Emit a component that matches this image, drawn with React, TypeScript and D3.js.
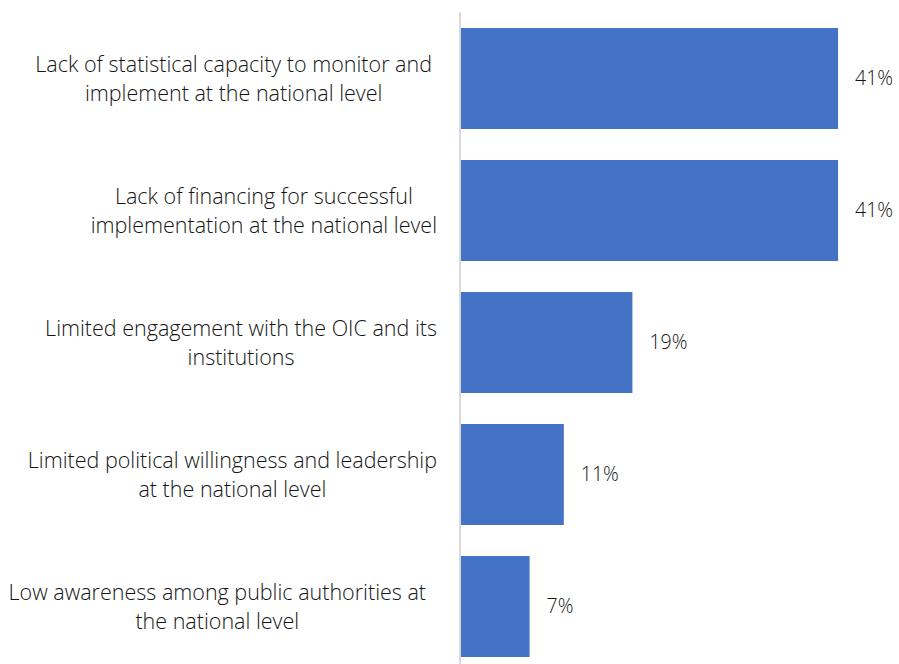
import React, { useEffect, useRef } from "react";
import * as d3 from "d3";

const categories: string[][] = [
  ["Lack of statistical capacity to monitor and", "implement at the national level"],
  ["Lack of financing for successful", "implementation at the national level"],
  ["Limited engagement with the OIC and its", "institutions"],
  ["Limited political willingness and leadership", "at the national level"],
  ["Low awareness among public authorities at", "the national level"],
];
const values: number[] = [0.4074, 0.4074, 0.1852, 0.1111, 0.0741];

const W = 899;
const H = 664;
const FONT = "'Open Sans', 'Noto Sans', sans-serif";
const LABEL_RIGHT = [432, 437, 437, 437, 426];

export default function App() {
  const ref = useRef<SVGSVGElement | null>(null);
  useEffect(() => {
    const svg = d3.select(ref.current);
    svg.selectAll("*").remove();
    const keys = categories.map((_, i) => String(i));
    const y = d3.scaleBand<string>().domain(keys).range([12.5, 672.5]).paddingInner(0.235).paddingOuter(0.1175);
    const x = d3.scaleLinear().domain([0, 0.45]).range([461, 877.5]);
    const fmt = d3.format(".0%");

    svg.append("line")
      .attr("x1", 460).attr("x2", 460)
      .attr("y1", y.range()[0]).attr("y2", y.range()[1])
      .attr("stroke", "#d9d9d9").attr("stroke-width", 2);

    svg.selectAll("rect.bar").data(values).enter().append("rect")
      .attr("class", "bar")
      .attr("x", x(0))
      .attr("y", (_, i) => y(keys[i])!)
      .attr("width", (d) => x(d) - x(0))
      .attr("height", y.bandwidth())
      .attr("fill", "#4472c4");

    svg.selectAll("text.val").data(values).enter().append("text")
      .attr("class", "val")
      .attr("x", (d) => x(d) + 17)
      .attr("y", (_, i) => y(keys[i])! + y.bandwidth() / 2)
      .attr("dy", "0.35em")
      .attr("font-family", FONT)
      .attr("font-weight", 300)
      .attr("font-size", 19.5)
      .attr("fill", "#141414")
      .text((d) => fmt(d));

    categories.forEach((lines, i) => {
      const cy = y(keys[i])! + y.bandwidth() / 2;
      const g = svg.append("g");
      const texts = lines.map((line, j) =>
        g.append("text")
          .attr("y", cy + (j - (lines.length - 1) / 2) * 29)
          .attr("dy", "0.35em")
          .attr("text-anchor", "middle")
          .attr("font-family", FONT)
          .attr("font-weight", 300)
          .attr("font-size", 21.5)
          .attr("fill", "#141414")
          .text(line)
      );
      const maxW = d3.max(texts, (t) => (t.node() as SVGTextElement).getComputedTextLength()) || 0;
      texts.forEach((t) => t.attr("x", LABEL_RIGHT[i] - maxW / 2));
    });
  }, []);
  return (
    <svg ref={ref} width={W} height={H} style={{ position: "absolute", left: 0, top: 0, background: "#fff" }} />
  );
}
